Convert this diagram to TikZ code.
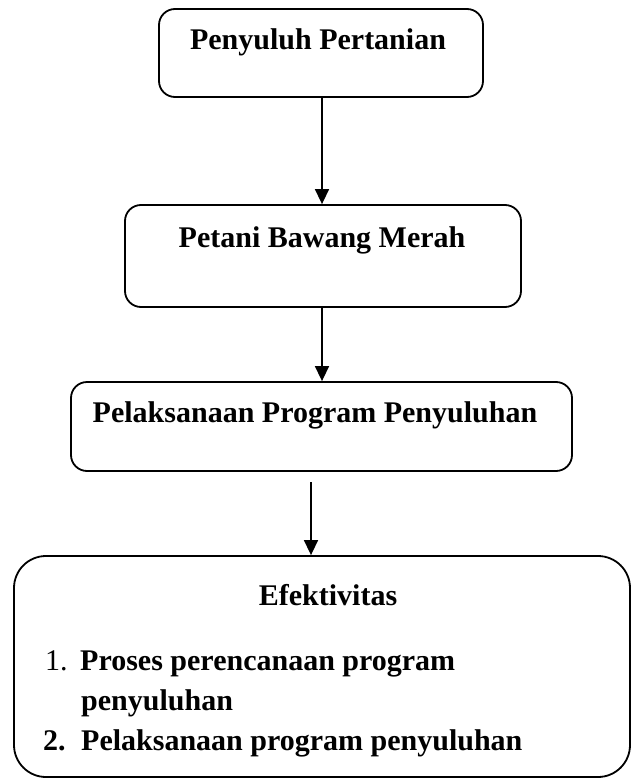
\documentclass[tikz,border=0pt]{standalone}
\usepackage{fontspec}
\setmainfont{Liberation Serif}
\usetikzlibrary{arrows.meta}
\begin{document}
\begin{tikzpicture}[x=1pt,y=-1pt,
  boxshape/.style={draw,line width=1.8pt,rounded corners=16pt,inner sep=0pt},
  bigbox/.style={draw,line width=1.8pt,rounded corners=32pt,inner sep=0pt},
  lbl/.style={font=\fontsize{30}{36}\selectfont\bfseries,inner sep=0pt,anchor=base},
  item/.style={font=\fontsize{30}{36}\selectfont,inner sep=0pt,anchor=base west},
  conn/.style={line width=1.5pt,-{Triangle[width=14pt,length=15pt]}}]
\useasboundingbox (0,0) rectangle (631,778);
% boxes
\node[boxshape,minimum width=324pt,minimum height=88pt] (b1) at (321,53) {};
\node[boxshape,minimum width=396pt,minimum height=102pt] (b2) at (323,256) {};
\node[boxshape,minimum width=501pt,minimum height=89pt] (b3) at (321.5,426.5) {};
\node[bigbox,minimum width=616pt,minimum height=221pt] (b4) at (322,666.5) {};
% texts
\node[lbl] (t1) at (318,50) {Penyuluh Pertanian};
\node[lbl] (t2) at (322,247) {Petani Bawang Merah};
\node[lbl] (t3) at (315,422) {Pelaksanaan Program Penyuluhan};
\node[lbl] (t4) at (328,605) {Efektivitas};
\node[item] (n1) at (45,670) {1.};
\node[item,font=\fontsize{30}{36}\selectfont\bfseries] (l1) at (80,670) {Proses perencanaan program};
\node[item,font=\fontsize{30}{36}\selectfont\bfseries] (l2) at (81,710) {penyuluhan};
\node[item,font=\fontsize{30}{36}\selectfont\bfseries] (n2) at (43,750) {2.};
\node[item,font=\fontsize{30}{36}\selectfont\bfseries] (l3) at (81,750) {Pelaksanaan program penyuluhan};
% connectors
\coordinate (a1) at (322,97);
\coordinate (a2) at (322,307);
\coordinate (a3) at (311,482);
\draw[conn] (a1) -- (a1 |- b2.north);
\draw[conn] (a2) -- (a2 |- b3.north);
\draw[conn] (a3) -- (a3 |- b4.north);
\end{tikzpicture}
\end{document}
